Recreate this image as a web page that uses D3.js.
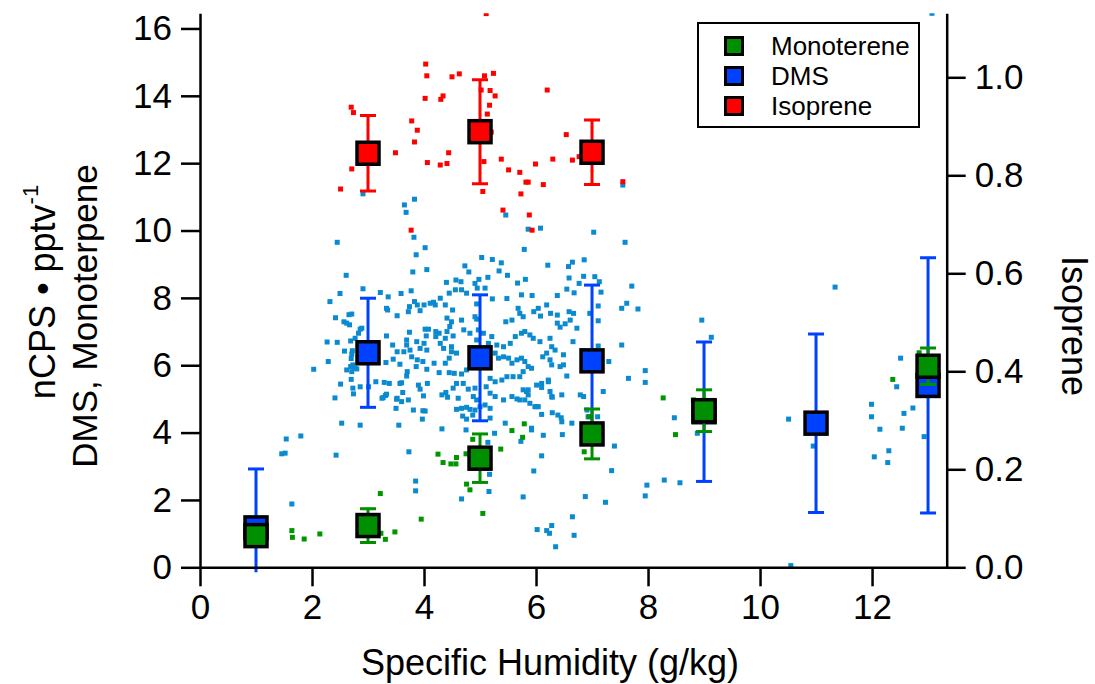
<!DOCTYPE html>
<html>
<head>
<meta charset="utf-8">
<script src="https://cdn.jsdelivr.net/npm/d3@7"></script>
<style>
  body { margin: 0; background: #fff; }
  text { font-family: "Liberation Sans", Arial, sans-serif; fill: #000; }
</style>
</head>
<body>
<div id="container"></div>
<script>
/* CONSTANTS AND GLOBALS */
const width = 1095;
const height = 684;
const plot = { left: 200, right: 946.7, top: 13.3, bottom: 567.3 };

/* DATA */
// binned means (x = specific humidity bin centre)
const dmsX = [1, 3, 5, 7, 9, 11, 13];
const dmsMean = [1.17, 6.37, 6.22, 6.13, 4.62, 4.28, 5.40];
const dmsErr = [1.75, 1.62, 1.87, 2.25, 2.07, 2.65, 3.79];

const monoX = [1, 3, 5, 7, 9, 13];
const monoMean = [0.94, 1.24, 3.24, 3.96, 4.65, 5.97];
const monoErr = [0.25, 0.50, 0.72, 0.74, 0.62, 0.54];

const isoX = [3, 5, 7];
const isoMean = [0.845, 0.889, 0.847];
const isoErr = [0.077, 0.106, 0.066];

// individual points [humidity, value]
const dmsPts = [
  [2.91,11.09],[3.65,10.76],[3.83,10.93],[3.68,10.54],[5.46,10.46],[5.86,10.04],[6.08,10.07],[5.79,9.44],
  [6.21,8.97],[7.03,9.95],[2.45,9.65],[3.82,9.80],[4.02,9.49],[3.86,9.28],[3.80,8.77],[4.05,8.84],
  [2.61,8.67],[5.03,9.20],[5.22,9.14],[5.38,9.04],[4.73,8.95],[4.80,8.77],[5.34,8.80],[5.49,8.67],
  [5.67,8.44],[5.81,8.55],[5.14,8.61],[4.98,8.55],[4.91,8.43],[4.57,8.53],[4.66,8.48],[4.40,8.46],
  [2.50,8.13],[2.91,8.27],[3.22,8.16],[3.36,8.03],[3.59,8.13],[3.77,8.21],[6.58,8.93],[6.65,9.06],
  [6.86,9.13],[6.59,8.59],[6.85,8.64],[6.77,8.43],[6.55,8.26],[6.68,8.15],[6.38,8.07],[5.74,8.09],
  [5.93,8.07],[4.67,8.24],[4.76,8.14],[4.56,8.24],[4.95,8.29],[5.09,8.29],[13.07,16.45],[7.55,11.35],
  [7.59,9.65],[11.34,8.32],[7.71,8.35],[7.05,8.63],[7.13,8.48],[7.16,8.17],[2.32,7.89],[2.42,7.41],
  [2.57,7.29],[2.62,7.25],[2.66,7.50],[2.71,7.52],[2.86,7.07],[2.83,6.95],[2.27,6.69],[2.45,6.68],
  [2.58,6.42],[2.69,6.72],[2.70,6.20],[2.73,6.01],[2.77,5.91],[2.62,5.86],[2.29,6.11],[2.03,5.88],
  [2.51,5.44],[2.70,5.58],[2.73,5.32],[2.74,5.15],[2.86,5.36],[2.41,5.03],[2.53,4.28],[2.86,4.22],
  [1.54,3.81],[1.80,3.90],[1.46,3.37],[1.52,3.39],[2.43,3.33],[1.64,1.88],[3.14,5.51],[3.29,5.49],
  [3.38,5.46],[3.31,5.10],[3.25,5.02],[3.57,5.46],[3.52,5.02],[3.50,4.72],[3.55,4.22],[3.73,3.43],
  [3.85,2.56],[3.85,2.27],[4.02,4.64],[3.97,4.40],[4.32,4.11],[4.75,4.08],[5.14,3.71],[5.26,3.98],
  [5.45,4.28],[5.92,4.08],[6.13,3.92],[6.47,3.94],[6.10,3.31],[5.96,2.86],[5.73,3.74],[5.17,2.76],
  [5.16,2.25],[4.67,2.03],[5.77,2.09],[6.88,2.10],[6.65,1.50],[6.68,0.95],[6.02,1.12],[6.19,1.09],
  [6.28,1.24],[6.24,1.01],[6.35,0.61],[6.39,4.52],[6.45,4.44],[6.29,4.59],[6.10,4.54],[6.01,4.77],
  [5.80,4.97],[5.66,5.00],[5.86,5.12],[5.86,5.27],[6.29,5.05],[6.46,5.12],[6.22,5.51],[6.10,5.46],
  [6.55,5.68],[6.79,5.12],[6.85,5.07],[6.91,4.67],[6.93,4.47],[2.67,7.20],[2.89,7.10],[2.77,6.80],
  [2.72,6.43],[2.71,6.33],[2.69,5.96],[2.80,5.89],[2.71,5.81],[3.01,5.36],[3.35,7.64],[3.52,7.47],
  [3.33,6.87],[3.44,6.60],[3.52,6.40],[3.45,6.18],[3.32,6.08],[3.57,6.03],[3.60,5.48],[3.27,5.04],
  [3.33,5.14],[3.51,4.99],[3.62,5.19],[3.60,4.92],[3.69,6.75],[3.69,6.60],[3.64,6.40],[3.75,6.45],
  [3.78,6.25],[3.70,5.81],[3.69,5.68],[3.74,6.98],[3.74,7.74],[3.72,7.59],[3.88,7.79],[3.93,7.62],
  [3.87,6.70],[3.93,6.50],[4.00,6.65],[4.05,6.45],[4.04,6.87],[4.08,7.07],[4.02,7.07],[3.88,6.16],
  [3.86,5.96],[3.98,6.11],[4.05,5.88],[4.18,6.06],[3.90,5.41],[3.93,5.29],[4.06,5.46],[3.99,5.09],
  [4.21,7.00],[4.21,6.85],[4.27,6.95],[4.41,7.00],[4.38,6.80],[4.52,6.87],[4.46,7.15],[4.29,6.65],
  [4.35,6.50],[4.49,6.55],[4.49,6.40],[4.58,6.36],[4.45,6.21],[4.38,6.06],[4.27,5.78],[4.45,5.78],
  [4.54,5.76],[4.67,5.74],[4.76,5.86],[4.58,5.46],[4.70,5.46],[4.79,5.29],[4.52,5.32],[4.61,5.02],
  [4.42,5.05],[4.32,5.12],[4.39,5.19],[4.58,4.69],[4.67,4.72],[4.76,4.75],[4.82,4.69],[4.69,4.49],
  [4.87,4.52],[4.76,4.40],[3.81,4.67],[3.98,4.65],[3.72,4.97],[4.11,7.84],[4.20,7.79],[4.38,7.79],
  [4.51,7.64],[4.41,7.40],[4.49,7.29],[4.67,7.34],[4.71,7.05],[4.82,6.95],[4.94,7.82],[4.94,7.37],
  [5.68,7.69],[5.71,7.54],[5.77,7.44],[5.57,7.34],[5.46,7.29],[5.96,7.59],[6.04,7.69],[6.08,7.46],
  [6.19,7.79],[6.26,7.54],[6.38,7.49],[6.38,7.25],[6.43,7.13],[6.52,7.23],[6.59,7.59],[6.67,7.54],
  [6.73,7.10],[6.61,7.34],[6.66,6.70],[7.11,7.76],[7.11,7.32],[7.53,7.69],[7.62,7.84],[7.53,6.60],
  [7.65,5.61],[7.30,6.11],[7.20,5.22],[7.11,6.57],[4.91,7.44],[4.97,7.05],[4.94,6.75],[5.06,6.95],
  [5.21,6.85],[5.15,6.65],[5.30,6.60],[5.42,6.55],[5.54,6.65],[5.63,6.85],[5.74,6.95],[5.80,7.00],
  [5.89,6.90],[5.95,6.80],[6.07,6.70],[6.25,6.80],[6.28,6.55],[6.34,6.45],[6.19,6.36],[6.12,6.25],
  [6.25,6.16],[6.49,6.31],[6.49,6.01],[6.43,5.96],[6.28,6.01],[6.22,5.56],[6.01,5.41],[6.10,5.34],
  [5.27,6.36],[5.33,6.21],[5.42,6.25],[5.51,6.21],[5.57,6.06],[5.66,6.16],[5.74,6.21],[5.80,6.11],
  [5.86,5.96],[5.92,5.91],[5.77,5.81],[5.71,5.66],[5.59,5.66],[5.48,5.66],[5.39,5.56],[5.27,5.51],
  [5.18,5.61],[5.11,5.36],[5.18,5.17],[5.27,5.07],[5.42,4.97],[5.57,5.07],[5.71,4.97],[5.83,5.22],
  [5.89,4.87],[5.98,4.77],[5.77,5.27],[4.91,5.32],[4.88,5.07],[4.94,4.97],[5.00,4.77],[5.09,4.82],
  [5.18,4.72],[4.91,4.67],[6.04,4.77],[6.46,4.32],[6.28,5.07],[6.25,5.22],[5.18,4.43],[5.92,4.13],
  [4.45,8.14],[4.29,7.99],[4.17,7.87],[4.00,7.79],[3.83,7.89],[3.33,7.69],[5.48,7.98],[5.22,7.97],
  [7.82,7.67],[7.95,5.84],[7.95,5.49],[8.96,7.34],[9.13,6.83],[8.47,4.44],[8.88,3.98],[7.40,3.60],
  [7.35,2.87],[7.24,1.93],[7.98,2.44],[7.95,2.12],[8.29,2.59],[8.57,2.51],[10.51,4.40],[10.95,3.60],
  [10.55,0.05],[11.99,4.84],[11.99,4.47],[12.14,4.10],[12.04,3.28],[12.30,3.46],[12.28,3.11],[12.51,6.21],
  [12.44,5.36],[12.57,4.57],[12.73,4.73],[12.54,4.13],[12.93,3.88],[6.64,4.28],[6.96,7.54],[7.10,4.47]
];

const monoPts = [
  [1.64,1.09],[1.65,0.89],[1.86,0.84],[2.14,0.99],[3.22,2.19],[3.23,1.01],[3.31,0.83],[3.48,1.05],
  [3.95,1.43],[4.25,3.36],[4.34,3.11],[4.48,3.07],[4.57,3.07],[4.58,3.26],[4.75,3.37],[4.76,2.47],
  [4.82,2.30],[4.87,3.80],[5.05,1.60],[5.37,3.51],[5.57,4.06],[5.76,3.86],[5.79,4.26],[6.86,3.43],
  [8.27,5.03],[8.49,3.94],[8.81,4.97],[12.37,5.58],[12.84,6.37],[6.95,4.47]
];

// isoprene points use the right-hand axis
const isoPts = [
  [5.11,1.13],[4.03,1.027],[4.05,1.003],[4.50,1.001],[4.63,1.007],[5.08,1.003],[5.24,1.008],[5.02,0.974],
  [5.18,0.973],[5.27,0.962],[5.17,0.943],[5.13,0.925],[5.20,0.888],[4.02,0.957],[4.30,0.955],[4.34,0.962],
  [2.70,0.939],[2.74,0.928],[3.78,0.911],[3.88,0.892],[3.83,0.868],[3.49,0.846],[4.44,0.846],[4.06,0.826],
  [4.29,0.821],[4.41,0.824],[2.71,0.813],[2.51,0.772],[5.05,0.767],[5.07,0.828],[5.38,0.833],[5.51,0.811],
  [5.71,0.806],[5.82,0.786],[5.86,0.786],[5.73,0.762],[5.99,0.823],[6.13,0.781],[6.30,0.833],[6.54,0.883],
  [6.65,0.831],[6.20,0.974],[5.41,0.729],[5.88,0.719],[5.93,0.688],[3.77,0.688],[7.55,0.787],[6.77,0.838]
];

const legendLabels = ["Monoterene", "DMS", "Isoprene"];
const xTicks = [0, 2, 4, 6, 8, 10, 12];
const yLeftTicks = [0, 2, 4, 6, 8, 10, 12, 14, 16];
const yRightTicks = [0, 0.2, 0.4, 0.6, 0.8, 1.0];

/* COLOURS */
const cMono = "#008f00", cDms = "#0040ff", cIso = "#ff0000";
const cDmsPt = "#0b8ad0", cMonoPt = "#009600";

/* SCALES */
const xScale = d3.scaleLinear().domain([0, 13.333]).range([plot.left, plot.right]);
const yLeft = d3.scaleLinear().domain([0, 16.45]).range([plot.bottom, plot.top]);
const yRight = d3.scaleLinear().domain([0, 1.1306]).range([plot.bottom, plot.top]);

/* SVG */
const svg = d3.select("#container")
  .append("svg")
  .attr("width", width)
  .attr("height", height);

svg.append("clipPath").attr("id", "clip")
  .append("rect")
  .attr("x", plot.left - 15).attr("y", plot.top)
  .attr("width", plot.right - plot.left + 15).attr("height", plot.bottom - plot.top + 5);

const g = svg.append("g").attr("clip-path", "url(#clip)");

// small scatter squares
function dots(pts, yS, color) {
  g.append("g").selectAll("rect")
    .data(pts)
    .join("rect")
    .attr("x", d => xScale(d[0]) - 2.5)
    .attr("y", d => yS(d[1]) - 2.5)
    .attr("width", 5)
    .attr("height", 5)
    .attr("fill", color);
}
dots(dmsPts, yLeft, cDmsPt);
dots(monoPts, yLeft, cMonoPt);
dots(isoPts, yRight, cIso);

// error bars + mean boxes
function means(xs, ms, es, yS, color) {
  const rows = xs.map((x, i) => ({ x: x, m: ms[i], e: es[i] }));
  const eb = g.append("g").attr("stroke", color).attr("stroke-width", 3);
  eb.selectAll("line.v").data(rows).join("line")
    .attr("x1", d => xScale(d.x)).attr("x2", d => xScale(d.x))
    .attr("y1", d => yS(d.m - d.e)).attr("y2", d => yS(d.m + d.e));
  eb.selectAll("line.top").data(rows).join("line")
    .attr("x1", d => xScale(d.x) - 8).attr("x2", d => xScale(d.x) + 8)
    .attr("y1", d => yS(d.m + d.e)).attr("y2", d => yS(d.m + d.e));
  eb.selectAll("line.bot").data(rows).join("line")
    .attr("x1", d => xScale(d.x) - 8).attr("x2", d => xScale(d.x) + 8)
    .attr("y1", d => yS(d.m - d.e)).attr("y2", d => yS(d.m - d.e));
  g.append("g").selectAll("rect").data(rows).join("rect")
    .attr("x", d => xScale(d.x) - 11)
    .attr("y", d => yS(d.m) - 11)
    .attr("width", 22).attr("height", 22)
    .attr("fill", color).attr("stroke", "#000").attr("stroke-width", 3.5);
}
means(dmsX, dmsMean, dmsErr, yLeft, cDms);
means(monoX, monoMean, monoErr, yLeft, cMono);
means(isoX, isoMean, isoErr, yRight, cIso);

/* AXES */
function styleAxis(sel) {
  sel.selectAll("path.domain").attr("stroke", "#000").attr("stroke-width", 2.5);
  sel.selectAll(".tick line").attr("stroke", "#000").attr("stroke-width", 2.5);
  sel.selectAll(".tick text").attr("font-size", 35).attr("font-family", "Liberation Sans, Arial, sans-serif").attr("fill", "#000");
}

svg.append("g")
  .attr("transform", `translate(0,${plot.bottom})`)
  .call(d3.axisBottom(xScale).tickValues(xTicks).tickSize(19).tickSizeOuter(0).tickPadding(8))
  .call(styleAxis);

svg.append("g")
  .attr("transform", `translate(${plot.left},0)`)
  .call(d3.axisLeft(yLeft).tickValues(yLeftTicks).tickSize(19).tickSizeOuter(0).tickPadding(9).tickFormat(d3.format("d")))
  .call(styleAxis);

svg.append("g")
  .attr("transform", `translate(${plot.right},0)`)
  .call(d3.axisRight(yRight).tickValues(yRightTicks).tickSize(19).tickSizeOuter(0).tickPadding(9).tickFormat(d3.format(".1f")))
  .call(styleAxis);

// axis titles
svg.append("text")
  .attr("x", 550).attr("y", 675)
  .attr("text-anchor", "middle")
  .attr("font-size", 36)
  .text("Specific Humidity (g/kg)");

const lt = svg.append("text")
  .attr("transform", "translate(55,292) rotate(-90)")
  .attr("text-anchor", "middle")
  .attr("font-size", 36);
lt.append("tspan").text("nCPS \u2022 pptv");
lt.append("tspan").attr("font-size", 22).attr("dy", -17).text("-1");

svg.append("text")
  .attr("transform", "translate(97,316) rotate(-90)")
  .attr("text-anchor", "middle")
  .attr("font-size", 35)
  .text("DMS, Monoterpene");

svg.append("text")
  .attr("transform", "translate(1062,326) rotate(90)")
  .attr("text-anchor", "middle")
  .attr("font-size", 36)
  .text("Isoprene");

/* LEGEND */
const legend = svg.append("g");
legend.append("rect")
  .attr("x", 698).attr("y", 23).attr("width", 221).attr("height", 104)
  .attr("fill", "#fff").attr("stroke", "#000").attr("stroke-width", 2);
const legColors = [cMono, cDms, cIso];
const legItems = legend.selectAll("g.item")
  .data(legendLabels)
  .join("g")
  .attr("class", "item")
  .attr("transform", (d, i) => `translate(734,${46 + i * 30})`);
legItems.append("rect")
  .attr("x", -8.5).attr("y", -8.5).attr("width", 17).attr("height", 17)
  .attr("fill", (d, i) => legColors[i]).attr("stroke", "#000").attr("stroke-width", 3);
legItems.append("text")
  .attr("x", 37).attr("y", 9)
  .attr("font-size", 26)
  .text(d => d);
</script>
</body>
</html>
